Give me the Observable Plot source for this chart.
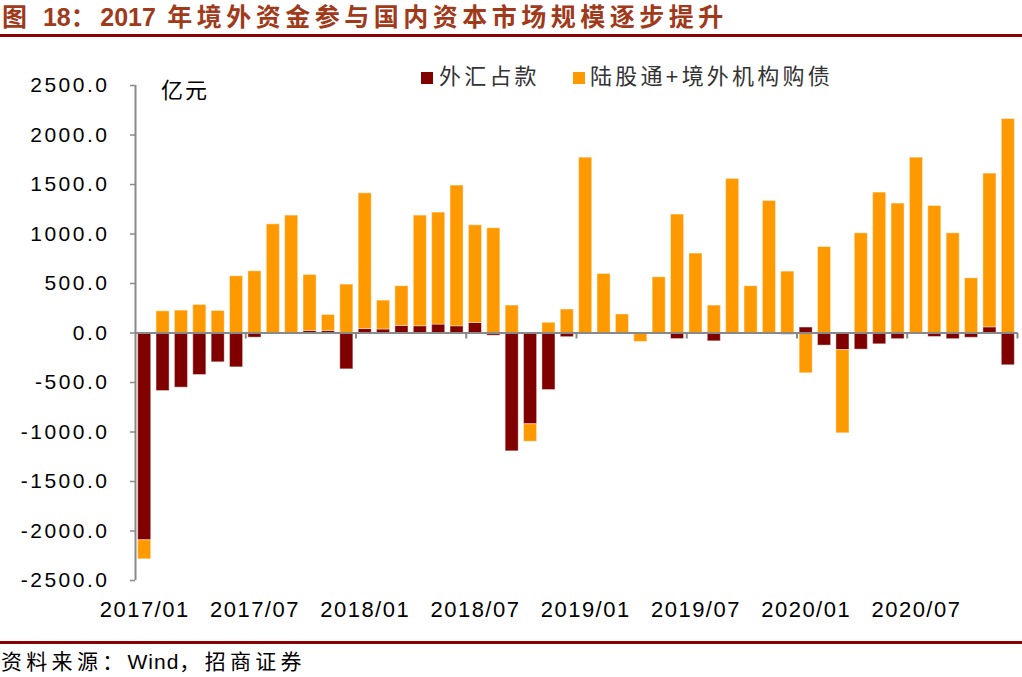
<!DOCTYPE html>
<html>
<head>
<meta charset="utf-8">
<script src="https://cdn.jsdelivr.net/npm/d3@7"></script>
<script src="https://cdn.jsdelivr.net/npm/@observablehq/plot@0.6"></script>
<style>
  body { margin: 0; background: #fff; }
  #wrap { position: relative; width: 1022px; height: 677px; overflow: hidden; background: #fff;
          font-family: "Liberation Sans", Arial, "Noto Sans CJK SC", sans-serif; }
  #title { position: absolute; left: 2px; top: 3px; font-size: 25px; line-height: 28px; font-weight: bold;
           color: #a03a1a; letter-spacing: 4.5px; white-space: nowrap; }
  #title .num { letter-spacing: 0; }
  .hr { position: absolute; left: 0; width: 1022px; height: 3px; background: #8b0000; }
  #source { position: absolute; left: 1px; top: 650px; font-size: 21px; line-height: 24px; color: #000;
            letter-spacing: 4.3px; white-space: nowrap; }
  #source .num { letter-spacing: 1px; }
  #unit { position: absolute; left: 161px; top: 80px; font-size: 22px; line-height: 22px; color: #000; letter-spacing: 2px; }
  .sw { position: absolute; width: 12px; height: 12px; top: 72px; }
  .lg { position: absolute; top: 66px; font-size: 22px; line-height: 22px; color: #333; letter-spacing: 3.2px; white-space: nowrap; }
  #chart { position: absolute; left: 0; top: 0; }
  #chart g[aria-label="y-axis tick label"] text { letter-spacing: 2.5px; }
  #chart g[aria-label="x-axis tick label"] text { letter-spacing: 1.5px; }
</style>
</head>
<body>
<div id="wrap">
  <div id="chart"></div>
  <div id="title">图 <span class="num">18</span>：<span class="num">2017</span> 年境外资金参与国内资本市场规模逐步提升</div>
  <div class="hr" style="top:34px"></div>
  <div id="unit">亿元</div>
  <div class="sw" id="sw0" style="left:421px"></div>
  <div class="lg" id="lg0" style="left:439px"></div>
  <div class="sw" id="sw1" style="left:573px"></div>
  <div class="lg" id="lg1" style="left:590px"></div>
  <div class="hr" style="top:641px"></div>
  <div id="source">资料来源：<span class="num">Wind</span>，招商证券</div>
</div>
<script>
const months = [
  "2017/01","2017/02","2017/03","2017/04","2017/05","2017/06","2017/07","2017/08","2017/09","2017/10","2017/11","2017/12",
  "2018/01","2018/02","2018/03","2018/04","2018/05","2018/06","2018/07","2018/08","2018/09","2018/10","2018/11","2018/12",
  "2019/01","2019/02","2019/03","2019/04","2019/05","2019/06","2019/07","2019/08","2019/09","2019/10","2019/11","2019/12",
  "2020/01","2020/02","2020/03","2020/04","2020/05","2020/06","2020/07","2020/08","2020/09","2020/10","2020/11","2020/12"
];
const seriesNames = ["外汇占款", "陆股通+境外机构购债"];
const seriesColors = ["#800000", "#FF9900"];
const fxReserve = [
  -2094, -586, -552, -424, -296, -347, -47, 0, 0, 20, 20, -367,
  40, 35, 71, 68, 85, 68, 101, -27, -1195, -922, -576, -42,
  -5, 0, 0, 0, 0, -61, 0, -84, 0, 0, 0, -17,
  55, -127, -172, -168, -114, -62, -9, -40, -62, -48, 57, -326
];
const foreignInflow = [
  -192, 219, 226, 283, 222, 573, 623, 1098, 1186, 566, 162, 489,
  1371, 292, 401, 1118, 1131, 1421, 987, 1058, 277, -176, 103, 237,
  1771, 596, 187, -90, 563, 1196, 802, 277, 1556, 472, 1333, 620,
  -407, 868, -841, 1007, 1418, 1307, 1771, 1283, 1007, 552, 1553, 2161
];
const yTicks = [-2500, -2000, -1500, -1000, -500, 0, 500, 1000, 1500, 2000, 2500];
const xTickLabels = ["2017/01","2017/07","2018/01","2018/07","2019/01","2019/07","2020/01","2020/07"];
const groupStarts = ["2017/07","2018/01","2018/07","2019/01","2019/07","2020/01","2020/07"];

const data = months.flatMap((m, i) => [
  {month: m, series: seriesNames[0], value: fxReserve[i]},
  {month: m, series: seriesNames[1], value: foreignInflow[i]}
]);

const W = 1022, H = 677;
const mL = 135, mR = 5, mT = 85, mB = 97;
const step = (W - mL - mR) / months.length;
const axisColor = "#898989";

const chart = Plot.plot({
  width: W, height: H,
  marginLeft: mL, marginRight: mR, marginTop: mT, marginBottom: mB,
  style: {fontFamily: "'Liberation Sans', Arial, sans-serif", background: "transparent", overflow: "visible"},
  x: {domain: months, paddingInner: 0.29, paddingOuter: 0.145, round: false, axis: null},
  y: {domain: [-2500, 2500], axis: null},
  color: {domain: seriesNames, range: seriesColors},
  marks: [
    Plot.barY(data, Plot.stackY({x: "month", y: "value", fill: "series", stroke: "#ffffff", strokeOpacity: 0.4, strokeWidth: 1})),
    Plot.ruleY([0], {stroke: axisColor, strokeWidth: 2}),
    Plot.ruleX(groupStarts, {x: d => d, y1: () => 0, y2: () => 0, insetBottom: -6, dx: -step / 2, stroke: axisColor, strokeWidth: 2}),
    Plot.ruleX([months[months.length - 1]], {x: d => d, y1: () => 0, y2: () => 0, insetBottom: -6, dx: step / 2, stroke: axisColor, strokeWidth: 2}),
    Plot.ruleX([months[0]], {x: d => d, y1: () => -2500, y2: () => 2500, dx: -step / 2, stroke: axisColor, strokeWidth: 2}),
    Plot.axisY(yTicks, {tickSize: 5, tickPadding: 21, stroke: axisColor, strokeWidth: 1.5, fill: "#000", label: null,
      tickFormat: d => d.toFixed(1), fontSize: 21, fontFamily: "'Liberation Sans', Arial, sans-serif"}),
    Plot.axisX(xTickLabels, {anchor: "bottom", tickSize: 0, tickPadding: 21, fill: "#000", fontSize: 22, label: null,
      fontFamily: "'Liberation Sans', Arial, sans-serif"})
  ]
});
document.getElementById("chart").appendChild(chart);

seriesNames.forEach((name, i) => {
  document.getElementById("sw" + i).style.background = seriesColors[i];
  document.getElementById("lg" + i).textContent = name;
});
</script>
</body>
</html>
